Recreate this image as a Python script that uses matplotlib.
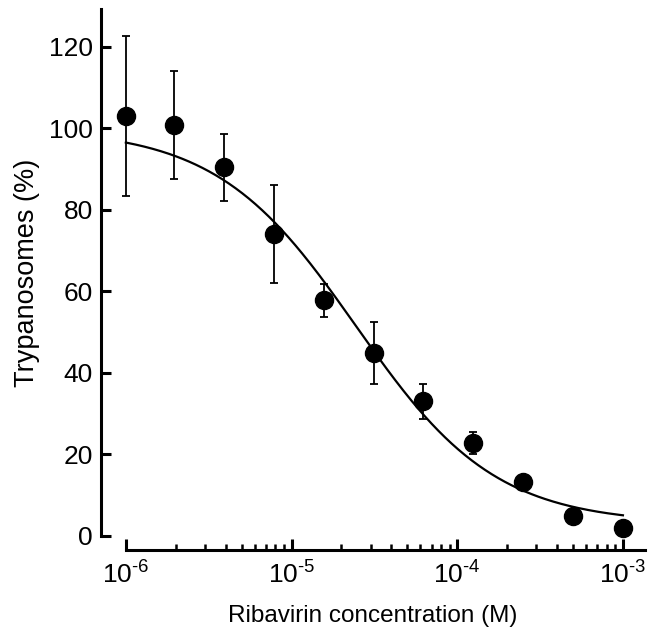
import matplotlib
matplotlib.use("Agg")
import matplotlib.pyplot as plt
from matplotlib.ticker import FixedLocator, FuncFormatter, NullFormatter
import numpy as np

plt.rcParams["font.family"] = ["Liberation Sans", "DejaVu Sans"]
plt.rcParams["mathtext.fontset"] = "custom"
plt.rcParams["mathtext.rm"] = "Liberation Sans"
plt.rcParams["mathtext.default"] = "regular"

INK = "#000000"

# ribavirin concentrations (M), two-fold dilutions
conc = [1e-6, 1.95e-6, 3.9e-6, 7.8e-6, 1.56e-5, 3.125e-5, 6.25e-5, 1.25e-4, 2.5e-4, 5e-4, 1e-3]
# trypanosomes (% of control) and error
pct = [103.0, 100.8, 90.5, 74.0, 57.8, 44.8, 33.0, 22.7, 13.3, 4.8, 2.0]
err = [19.6, 13.2, 8.2, 12.0, 4.1, 7.6, 4.4, 2.7, 1.2, 0.8, 0.6]

# fitted dose-response curve (4-parameter logistic)
fit_top = 100.0
fit_bottom = 3.0
fit_ic50 = 2.45e-5
fit_hill = 1.03

yticks = [0, 20, 40, 60, 80, 100, 120]
xdecades = [-6, -5, -4, -3]

fig = plt.figure(figsize=(6.49, 6.28), dpi=100)
ax = fig.add_axes([0.1556, 0.1465, 0.8382, 0.8392])

xc = np.logspace(-6, -3, 300)
yc = fit_bottom + (fit_top - fit_bottom) / (1 + (xc / fit_ic50) ** fit_hill)
ax.plot(xc, yc, color=INK, lw=1.6, zorder=2)

ax.errorbar(conc, pct, yerr=err, fmt="o", color=INK, ms=13, elinewidth=1.3,
            capsize=3, capthick=1.3, zorder=3, clip_on=False)

ax.set_xscale("log")
ax.set_xlim(10 ** -6.15, 10 ** -2.867)
ax.set_ylim(0, 129.3)

ax.spines["top"].set_visible(False)
ax.spines["right"].set_visible(False)
for s in ("left", "bottom"):
    ax.spines[s].set_linewidth(2.2)
ax.spines["bottom"].set_position(("outward", 10))
ax.spines["bottom"].set_bounds(1e-6, 10 ** -2.867)
ax.spines["left"].set_bounds(0, 129.3)

ax.set_yticks(yticks)
majors = [10.0 ** d for d in xdecades]
minors = [m * 10.0 ** d for d in xdecades[:-1] for m in range(2, 10)]
ax.xaxis.set_major_locator(FixedLocator(majors))
ax.xaxis.set_minor_locator(FixedLocator(minors))
ax.xaxis.set_major_formatter(FuncFormatter(
    lambda v, p: r"$10^{\text{-%d}}$" % round(-np.log10(v))))
ax.xaxis.set_minor_formatter(NullFormatter())

ax.tick_params(axis="y", direction="in", length=7.5, width=2.2, labelsize=19, pad=6)
ax.tick_params(axis="x", which="major", direction="in", length=8, width=2.2, labelsize=19, pad=8)
ax.tick_params(axis="x", which="minor", direction="in", length=4, width=1.8)

ax.set_ylabel("Trypanosomes (%)", fontsize=19.5, labelpad=6)
ax.set_xlabel("Ribavirin concentration (M)", fontsize=17.5, labelpad=12)

fig.savefig("out.png", dpi=100, facecolor="white")
